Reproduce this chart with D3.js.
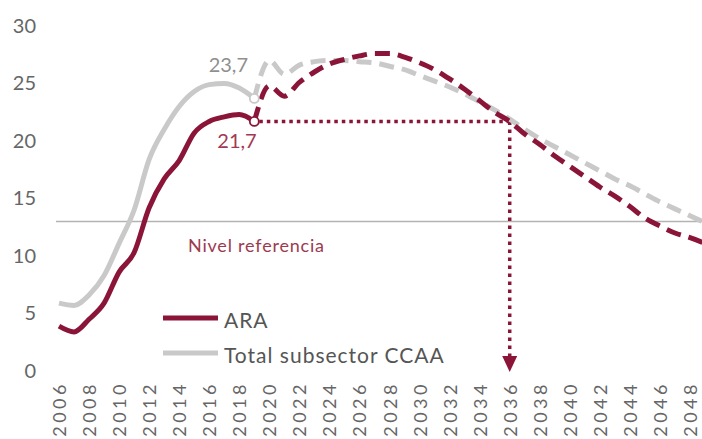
<!DOCTYPE html>
<html>
<head>
<meta charset="utf-8">
<script src="https://cdn.jsdelivr.net/npm/d3@7"></script>
<style>
  body { margin: 0; background: #fff; }
  svg { display: block; font-family: Lato, "Open Sans", sans-serif; }
</style>
</head>
<body>
<script>
const width = 702;
const height = 439;

// datos
const histYears = [2006, 2007, 2008, 2009, 2010, 2011, 2012, 2013, 2014, 2015, 2016, 2017, 2018, 2019];
const araHist = [3.9, 3.4, 4.5, 5.9, 8.6, 10.3, 14.2, 16.7, 18.3, 20.7, 21.7, 22.1, 22.3, 21.7];
const totalHist = [5.9, 5.7, 6.6, 8.3, 11.1, 14.0, 18.4, 21.0, 23.0, 24.3, 24.9, 25.0, 24.6, 23.7];

const projYears = [2019, 2020, 2021, 2022, 2023, 2024, 2025, 2026, 2027, 2028, 2029, 2030, 2031, 2032, 2033, 2034,
    2035, 2036, 2037, 2038, 2039, 2040, 2041, 2042, 2043, 2044, 2045, 2046, 2047, 2048, 2049];
const araProj = [21.7, 24.8, 23.9, 25.1, 26.0, 26.7, 27.1, 27.4, 27.6, 27.6, 27.3, 26.8, 26.2, 25.4, 24.5, 23.5,
    22.5, 21.7, 20.6, 19.7, 18.7, 17.8, 16.9, 16.0, 15.2, 14.3, 13.3, 12.6, 12.0, 11.6, 11.1];
const totalProj = [23.7, 27.0, 25.8, 26.6, 26.9, 27.0, 27.0, 26.9, 26.8, 26.5, 26.2, 25.7, 25.2, 24.7, 24.1, 23.4,
    22.7, 21.9, 21.0, 20.2, 19.5, 18.8, 18.1, 17.4, 16.7, 16.1, 15.4, 14.7, 14.1, 13.5, 12.9];

const xTicks = [2006, 2008, 2010, 2012, 2014, 2016, 2018, 2020, 2022, 2024, 2026, 2028, 2030, 2032, 2034,
    2036, 2038, 2040, 2042, 2044, 2046, 2048];
const yTicks = [0, 5, 10, 15, 20, 25, 30];

const refLevel = 13;
const lastYear = 2019;
const lastAra = 21.7;
const lastTotal = 23.7;
const targetYear = 2036;

const red = '#8a1538';
const grey = '#c9c9c9';

const svg = d3.select('body').append('svg')
    .attr('width', width)
    .attr('height', height);

const x = d3.scaleLinear()
    .domain([2006, 2048])
    .range([59, 690]);
const y = d3.scaleLinear()
    .domain([0, 30])
    .range([371, 26]);

svg.append('defs').append('clipPath')
    .attr('id', 'plot')
    .append('rect')
    .attr('x', 0).attr('y', 0)
    .attr('width', width).attr('height', height);

// ejes
const yAxis = svg.append('g')
    .attr('transform', 'translate(36,0)')
    .call(d3.axisLeft(y).tickValues(yTicks).tickSize(0).tickPadding(0));
yAxis.select('.domain').remove();
yAxis.selectAll('text')
    .attr('fill', '#666')
    .style('font-size', '20px')
    .style('font-family', 'Lato, sans-serif');

const xAxis = svg.append('g')
    .attr('transform', 'translate(0,381)')
    .call(d3.axisBottom(x).tickValues(xTicks).tickFormat(d3.format('d')).tickSize(0));
xAxis.select('.domain').remove();
xAxis.selectAll('text')
    .attr('fill', '#666')
    .attr('transform', 'rotate(-90)')
    .attr('text-anchor', 'end')
    .attr('x', 0)
    .attr('y', 0)
    .attr('dy', '0.36em')
    .style('font-size', '18px')
    .style('letter-spacing', '3.5px')
    .style('font-family', 'Lato, sans-serif');

// nivel de referencia
svg.append('line')
    .attr('x1', x(2006) - 3)
    .attr('x2', width)
    .attr('y1', y(refLevel))
    .attr('y2', y(refLevel))
    .style('stroke', '#b3b3b3')
    .style('stroke-width', 1.5);

svg.append('text')
    .attr('x', 188)
    .attr('y', 252)
    .attr('fill', '#9c3a50')
    .style('font-size', '18px')
    .style('letter-spacing', '0.8px')
    .text('Nivel referencia');

const line = d3.line()
    .x(d => x(d[0]))
    .y(d => y(d[1]))
    .curve(d3.curveMonotoneX);

const g = svg.append('g').attr('clip-path', 'url(#plot)');

// historico
g.append('path')
    .attr('d', line(histYears.map((d, i) => [d, totalHist[i]])))
    .style('fill', 'none')
    .style('stroke', grey)
    .style('stroke-width', 5);

g.append('path')
    .attr('d', line(histYears.map((d, i) => [d, araHist[i]])))
    .style('fill', 'none')
    .style('stroke', red)
    .style('stroke-width', 5);

// lineas punteadas 21,7 -> 2036
g.append('line')
    .attr('x1', x(lastYear) + 5)
    .attr('x2', x(targetYear))
    .attr('y1', y(lastAra))
    .attr('y2', y(lastAra))
    .style('stroke', red)
    .style('stroke-width', 3.5)
    .style('stroke-dasharray', '3.5,4');

g.append('line')
    .attr('x1', x(targetYear))
    .attr('x2', x(targetYear))
    .attr('y1', y(lastAra))
    .attr('y2', y(0) - 15)
    .style('stroke', red)
    .style('stroke-width', 3.5)
    .style('stroke-dasharray', '3.5,4.5');

g.append('path')
    .attr('d', 'M' + (x(targetYear) - 7.5) + ',' + (y(0) - 15) +
        'L' + (x(targetYear) + 7.5) + ',' + (y(0) - 15) +
        'L' + x(targetYear) + ',' + (y(0) + 1) + 'Z')
    .style('fill', red);

// proyecciones
g.append('path')
    .attr('d', line(projYears.map((d, i) => [d, totalProj[i]])))
    .style('fill', 'none')
    .style('stroke', grey)
    .style('stroke-width', 5)
    .style('stroke-dasharray', '15,8');

g.append('path')
    .attr('d', line(projYears.map((d, i) => [d, araProj[i]])))
    .style('fill', 'none')
    .style('stroke', red)
    .style('stroke-width', 5)
    .style('stroke-dasharray', '15,8');

// marcadores
svg.append('circle')
    .attr('cx', x(lastYear))
    .attr('cy', y(lastTotal))
    .attr('r', 4.5)
    .style('fill', '#fff')
    .style('stroke', grey)
    .style('stroke-width', 1.8);

svg.append('circle')
    .attr('cx', x(lastYear))
    .attr('cy', y(lastAra))
    .attr('r', 4.5)
    .style('fill', '#fff')
    .style('stroke', red)
    .style('stroke-width', 1.8);

svg.append('text')
    .attr('x', 248)
    .attr('y', 72)
    .attr('text-anchor', 'end')
    .attr('fill', '#8f8f8f')
    .style('font-size', '20px')
    .text(d3.format('.1f')(lastTotal).replace('.', ','));

svg.append('text')
    .attr('x', 237)
    .attr('y', 148)
    .attr('text-anchor', 'middle')
    .attr('fill', '#a33a52')
    .style('font-size', '20px')
    .text(d3.format('.1f')(lastAra).replace('.', ','));

// leyenda
const legend = [{ name: 'ARA', color: red, y: 318 }, { name: 'Total subsector CCAA', color: grey, y: 353 }];

svg.selectAll('.leg-line')
    .data(legend)
    .enter().append('line')
    .attr('class', 'leg-line')
    .attr('x1', 163)
    .attr('x2', 218)
    .attr('y1', d => d.y)
    .attr('y2', d => d.y)
    .style('stroke', d => d.color)
    .style('stroke-width', 5);

svg.selectAll('.leg-text')
    .data(legend)
    .enter().append('text')
    .attr('class', 'leg-text')
    .attr('x', 224)
    .attr('y', d => d.y + 10)
    .attr('fill', '#555')
    .style('font-size', '21px')
    .style('letter-spacing', '1px')
    .text(d => d.name);
</script>
</body>
</html>
